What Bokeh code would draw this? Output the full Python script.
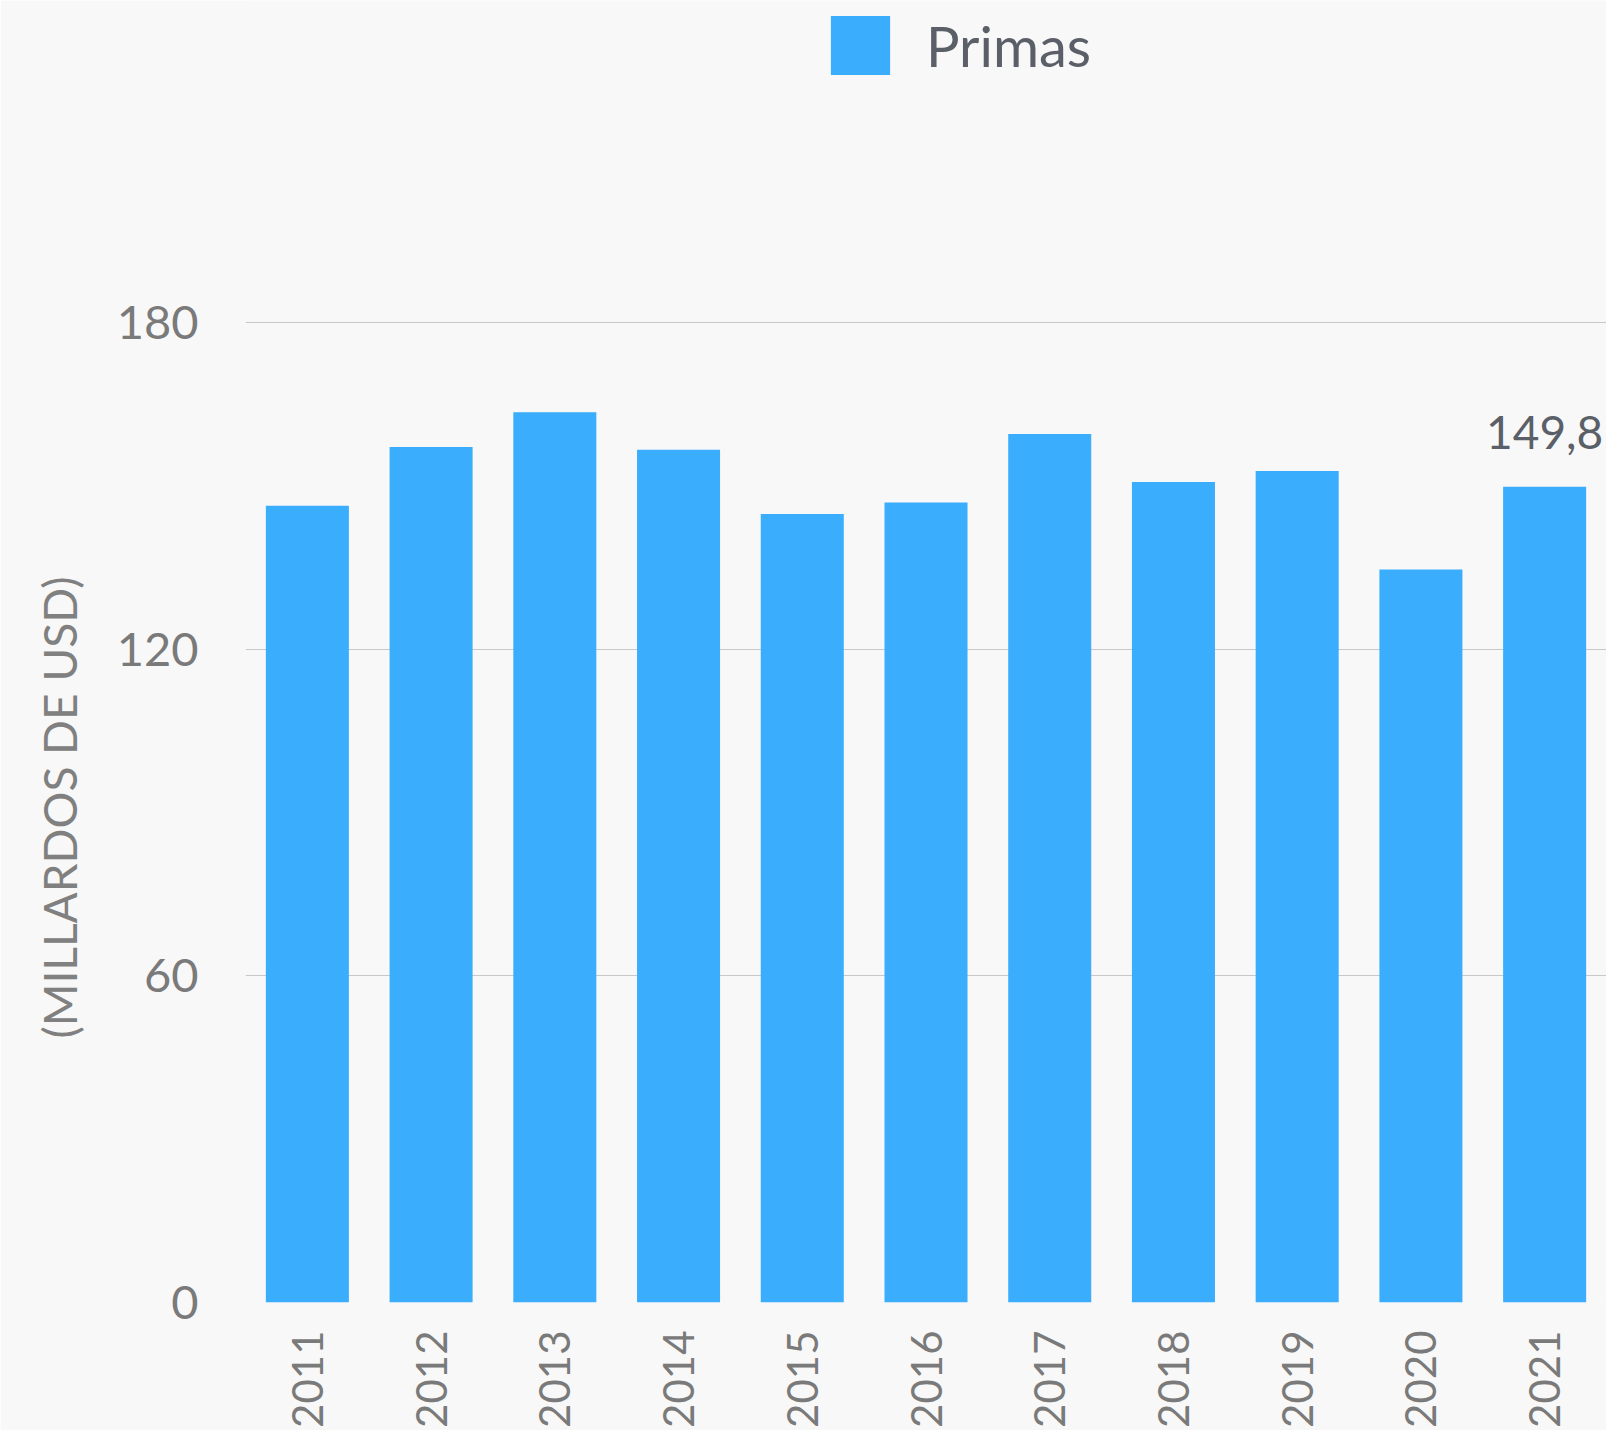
import math
from bokeh.plotting import figure
from bokeh.models import (ColumnDataSource, Range1d, FixedTicker, Legend, LegendItem,
                          LabelSet, Title)
from bokeh.core.properties import value
from bokeh.embed import file_html
from bokeh.resources import INLINE

years = ["2011", "2012", "2013", "2014", "2015", "2016", "2017", "2018", "2019", "2020", "2021"]
primas = [146.3, 157.1, 163.5, 156.6, 144.8, 146.9, 159.5, 150.7, 152.7, 134.6, 149.8]
y_ticks = [0, 60, 120, 180]
series_name = "Primas"
y_title = "(MILLARDOS DE USD)"
last_label = ["149,8"]

FONT = "Lato"
BG = "#f8f8f8"
BAR = "#3badfd"

src = ColumnDataSource(data=dict(x=years, y=primas))

p = figure(x_range=years, y_range=Range1d(0, 239.1), width=1606, height=1430,
           output_backend="svg", toolbar_location=None,
           min_border_left=245, min_border_right=0, min_border_top=0, min_border_bottom=126)
p.background_fill_color = BG
p.border_fill_color = BG
p.outline_line_color = None

r = p.vbar(x="x", top="y", width=0.671, source=src, fill_color=BAR, line_color=None)

# y axis
p.yaxis.ticker = FixedTicker(ticks=y_ticks)
p.yaxis.axis_line_color = None
p.yaxis.major_tick_line_color = None
p.yaxis.minor_tick_line_color = None
p.yaxis.major_tick_out = 0
p.yaxis.major_label_standoff = 47
p.yaxis.major_label_text_font = FONT
p.yaxis.major_label_text_font_size = "47px"
p.yaxis.major_label_text_color = "#7a7a7a"

# x axis
p.xaxis.axis_line_color = None
p.xaxis.major_tick_line_color = None
p.xaxis.major_tick_out = 0
p.xaxis.major_label_orientation = math.pi / 2
p.xaxis.major_label_standoff = 28
p.xaxis.major_label_text_font = FONT
p.xaxis.major_label_text_font_size = "42px"
p.xaxis.major_label_text_color = "#7a7a7a"

p.xgrid.grid_line_color = None
p.ygrid.grid_line_color = "#c8c8c8"
p.ygrid.grid_line_width = 1

# value label on last bar
lab_src = ColumnDataSource(data=dict(x=[years[-1]], y=[primas[-1]], t=last_label))
p.add_layout(LabelSet(x="x", y="y", text="t", source=lab_src, text_align="center",
                      text_baseline="alphabetic", y_offset=38, text_font=value(FONT),
                      text_font_size=value("46px"), text_color=value("#5b5f67")))

# y-axis title (left-side title, placed along the 0-180 part of the axis)
p.add_layout(Title(text=y_title, align="left", offset=264, standoff=54,
                   text_font=FONT, text_font_size="46px", text_font_style="normal",
                   text_color="#808080"), "left")

# legend
legend = Legend(items=[LegendItem(label=series_name, renderers=[r])],
                location=(578, 1220), orientation="horizontal",
                glyph_width=74, glyph_height=74, label_standoff=29,
                label_text_font=FONT, label_text_font_size="56px",
                label_text_color="#5b5f67", padding=0, margin=0,
                border_line_color=None, background_fill_alpha=0,
                label_height=74)
p.add_layout(legend)

open("out.html", "w").write(file_html(p, INLINE))
